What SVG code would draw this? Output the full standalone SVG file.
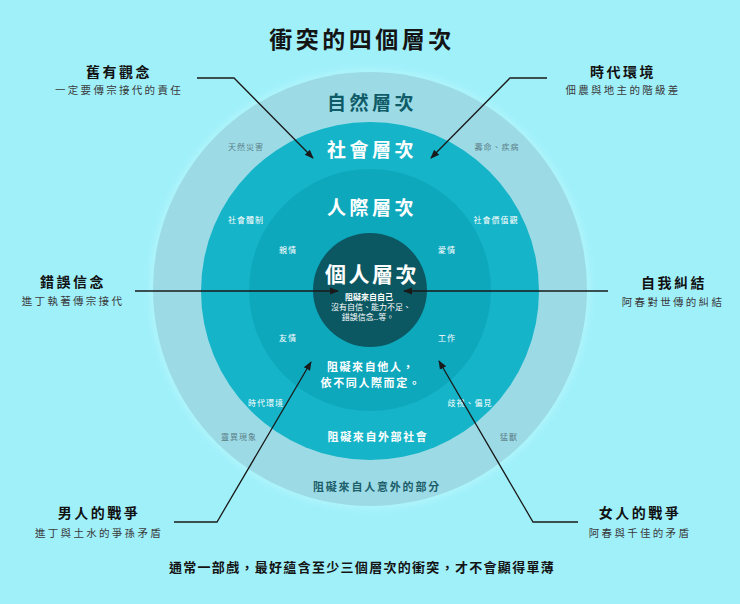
<svg xmlns="http://www.w3.org/2000/svg" width="740" height="604" viewBox="0 0 740 604">
<defs>
<style>
text{font-family:"Noto Sans CJK TC","Noto Sans CJK SC",sans-serif;text-anchor:middle}
.ttl{font-size:23px;font-weight:700;fill:#141414;letter-spacing:3.5px}
.lay{font-size:19px;font-weight:700;fill:#fff;letter-spacing:3.5px}
.hd{font-size:14px;font-weight:700;fill:#111;letter-spacing:2.5px}
.sub{font-size:10.5px;fill:#3a3a3a;letter-spacing:2.3px}
.blk{font-size:11px;font-weight:700;fill:#fff;letter-spacing:1.6px}
.sm{font-size:8px;fill:#fff;letter-spacing:1px}
.smd{font-size:8px;fill:#5d8088;letter-spacing:1px}
.cen{font-size:8px;fill:#fff}
.con{fill:none;stroke:#1a1a1a;stroke-width:1.3}
</style>
<marker id="ah" viewBox="0 0 10 10" refX="9" refY="5" markerWidth="9" markerHeight="9" markerUnits="userSpaceOnUse" orient="auto">
<path d="M0,1 L10,5 L0,9 Z" fill="#1a1a1a"/>
</marker>
<filter id="glow" x="-20%" y="-20%" width="140%" height="140%"><feGaussianBlur stdDeviation="2.5"/></filter>
</defs>
<rect width="740" height="604" fill="#a0f0fa"/>
<text class="ttl" x="362" y="48">衝突的四個層次</text>
<g id="nature">
<circle cx="370" cy="289" r="221" fill="#b0f5fc" opacity="0.8" filter="url(#glow)"/>
<circle cx="370" cy="289" r="217" fill="#9cdbe6"/>
<text class="lay" x="372" y="110" style="fill:#0f5c68">自然層次</text>
<text class="smd" x="246" y="150">天然災害</text>
<text class="smd" x="497" y="150">壽命、疾病</text>
<text class="smd" x="239" y="440">靈異現象</text>
<text class="smd" x="509" y="440">猛獸</text>
<text class="blk" x="377" y="491" style="fill:#1d5e6a;letter-spacing:1.8px">阻礙來自人意外的部分</text>
</g>
<g id="social">
<circle cx="370" cy="291" r="169" fill="#15b4c8"/>
<text class="lay" x="372" y="157">社會層次</text>
<text class="sm" x="246" y="223">社會體制</text>
<text class="sm" x="496" y="223">社會價值觀</text>
<text class="sm" x="266" y="406">時代環境</text>
<text class="sm" x="470" y="406">歧視、偏見</text>
<text class="blk" x="378" y="441">阻礙來自外部社會</text>
</g>
<g id="interpersonal">
<circle cx="370" cy="290" r="121" fill="#0ea8bd"/>
<text class="lay" x="372" y="215">人際層次</text>
<text class="sm" x="288" y="253">親情</text>
<text class="sm" x="447" y="253">愛情</text>
<text class="sm" x="288" y="341">友情</text>
<text class="sm" x="447" y="341">工作</text>
<text class="blk" x="371" y="371">阻礙來自他人，</text>
<text class="blk" x="371" y="387">依不同人際而定。</text>
</g>
<g id="personal">
<circle cx="370" cy="290" r="57" fill="#0b5862"/>
<text class="lay" x="372" y="282" style="font-size:21px;letter-spacing:2.5px">個人層次</text>
<text class="cen" x="369" y="300" style="font-weight:700">阻礙來自自己</text>
<text class="cen" x="371" y="310">沒有自信、能力不足、</text>
<text class="cen" x="368" y="320">錯誤信念..等。</text>
</g>
<g id="connectors">
<path class="con" d="M197,78 L234,78 L313,158" marker-end="url(#ah)"/>
<path class="con" d="M547,78 L510,78 L431,158" marker-end="url(#ah)"/>
<path class="con" d="M135,291 L338,291" marker-end="url(#ah)"/>
<path class="con" d="M608,291 L404,291" marker-end="url(#ah)"/>
<path class="con" d="M174,522 L217,522 L311,362" marker-end="url(#ah)"/>
<path class="con" d="M578,522 L533,522 L439,361" marker-end="url(#ah)"/>
</g>
<g id="label-old">
<text class="hd" x="119" y="77">舊有觀念</text>
<text class="sub" x="119" y="94">一定要傳宗接代的責任</text>
</g>
<g id="label-era">
<text class="hd" x="623" y="77">時代環境</text>
<text class="sub" x="623" y="94">佃農與地主的階級差</text>
</g>
<g id="label-belief">
<text class="hd" x="73" y="287">錯誤信念</text>
<text class="sub" x="73" y="305">進丁執著傳宗接代</text>
</g>
<g id="label-self">
<text class="hd" x="674" y="288">自我糾結</text>
<text class="sub" x="673" y="306">阿春對世傳的糾結</text>
</g>
<g id="label-men">
<text class="hd" x="99" y="518">男人的戰爭</text>
<text class="sub" x="99" y="537">進丁與土水的爭孫矛盾</text>
</g>
<g id="label-women">
<text class="hd" x="640" y="518">女人的戰爭</text>
<text class="sub" x="640" y="537">阿春與千佳的矛盾</text>
</g>
<text x="362" y="572" style="font-size:13px;font-weight:700;fill:#141414;letter-spacing:1.3px">通常一部戲，最好蘊含至少三個層次的衝突，才不會顯得單薄</text>
</svg>
